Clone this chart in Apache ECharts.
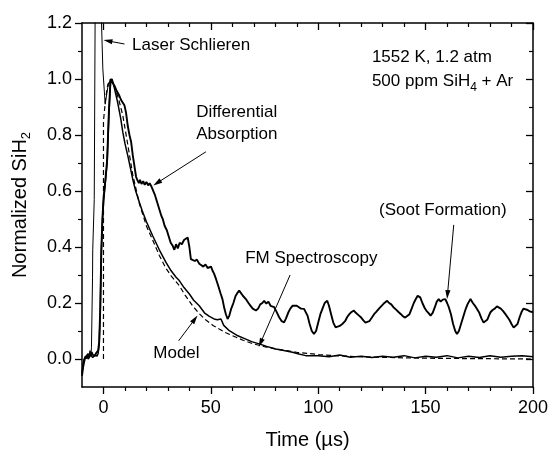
<!DOCTYPE html>
<html><head><meta charset="utf-8">
<script src="https://cdn.jsdelivr.net/npm/echarts@6/dist/echarts.min.js"></script>
<style>html,body{margin:0;padding:0;background:#fff}#c{width:551px;height:455px}</style>
</head><body><div id="c"></div>
<script>
// ---- data (time in µs, normalized SiH2) ----
const xTickRange = [-10, 200];
const yTickRange = [-0.1, 1.2];
const xTickValues = [0, 50, 100, 150, 200];
const yTickValues = [0, 0.2, 0.4, 0.6, 0.8, 1.0, 1.2];

const laserSchlieren = [[-10,-0.05],[-9.3,-0.01],[-8.5,0.01],[-8,0.0],[-7.3,0.02],[-6.8,0.01],[-6.3,0.03],[-5.8,0.02],[-5.6,0.04],[-5.1,0.29],[-5.0,0.39],[-4.3,0.57],[-3.9,1.2],[-3.7,1.4],[-1.3,1.4],[-1.1,1.25],[-0.3,1.036],[0.8,0.91],[2,0.97],[3.3,1.0]];

const diffAbsorption = [[-10,-0.06],[-9.5,-0.03],[-9,-0.01],[-8.5,0.005],[-8,0.0],[-7.5,0.015],[-7,0.005],[-6.5,0.02],[-6,0.01],[-5.5,0.025],[-5,0.015],[-4.5,0.02],[-4,0.01],[-3.5,0.02],[-3,0.015],[-2.5,0.03],[-2,0.06],[-1.5,0.18],[-1,0.39],[-0.5,0.5],[0,0.57],[1,0.65],[1.7,0.71],[2.5,0.88],[3.3,1.0],[4,1.0],[5.1,0.976],[6,0.96],[7.4,0.94],[8.2,0.925],[9,0.92],[9.8,0.905],[10.5,0.88],[11.3,0.833],[12.1,0.8],[12.9,0.774],[13.6,0.73],[14.4,0.69],[15.2,0.65],[15.9,0.637],[16.5,0.628],[17,0.64],[17.7,0.625],[18.5,0.635],[19.2,0.622],[20,0.632],[20.8,0.62],[21.5,0.628],[22.2,0.618],[22.9,0.613],[24,0.585],[25,0.56],[26,0.535],[27,0.51],[27.6,0.5],[28.5,0.475],[29.5,0.46],[30.5,0.435],[31.3,0.415],[32.2,0.405],[33,0.39],[33.8,0.41],[34.6,0.395],[35.5,0.415],[36.5,0.41],[37.5,0.425],[38.4,0.43],[39.2,0.434],[40,0.4],[40.7,0.357],[41.5,0.363],[42.5,0.35],[43.5,0.355],[44.6,0.34],[45.5,0.345],[46.5,0.33],[47.5,0.338],[48.5,0.325],[49.3,0.327],[50.1,0.33],[50.8,0.315],[51.5,0.305],[52.4,0.286],[53.5,0.26],[54.5,0.235],[55.4,0.214],[56.3,0.18],[57,0.16],[57.8,0.143],[58.6,0.155],[59.5,0.18],[60.5,0.2],[61.5,0.225],[62.3,0.235],[63.2,0.244],[64,0.238],[65,0.225],[66.3,0.214],[67.5,0.2],[68.5,0.19],[69.5,0.18],[71,0.173],[72,0.18],[73,0.195],[74,0.2],[74.8,0.208],[75.8,0.198],[76.8,0.205],[77.8,0.19],[78.7,0.196],[79.5,0.185],[80.5,0.17],[81.8,0.149],[83,0.135],[84.1,0.131],[85,0.145],[86,0.165],[87,0.18],[88,0.19],[88.8,0.196],[90,0.19],[91,0.185],[92,0.18],[93.4,0.179],[94.2,0.173],[95,0.155],[96,0.125],[97,0.1],[98,0.089],[99,0.1],[100,0.13],[101,0.16],[102,0.18],[103,0.2],[104.2,0.208],[105,0.19],[106,0.16],[107,0.13],[108.1,0.113],[109,0.12],[110,0.118],[111.2,0.125],[112.5,0.135],[113.5,0.15],[114.5,0.16],[115.5,0.168],[116.6,0.173],[117.5,0.165],[118.3,0.16],[119,0.155],[120,0.148],[121,0.138],[122,0.13],[122.8,0.125],[123.8,0.135],[125,0.148],[126,0.16],[127,0.168],[127.5,0.173],[128.5,0.182],[129.5,0.19],[130.5,0.198],[131.3,0.205],[132.1,0.208],[133,0.2],[134,0.195],[135,0.185],[136,0.178],[137.5,0.167],[138.5,0.16],[139.5,0.152],[140.5,0.148],[141.4,0.143],[142.5,0.16],[143.5,0.18],[144.5,0.2],[145.5,0.215],[146.3,0.226],[146.8,0.232],[147.5,0.22],[148.5,0.2],[149.5,0.183],[150.3,0.173],[151.3,0.165],[152.3,0.155],[153.3,0.165],[154.3,0.185],[155.2,0.205],[156.1,0.214],[157,0.205],[158,0.212],[159.2,0.214],[160,0.2],[160.8,0.185],[161.8,0.16],[162.8,0.125],[163.8,0.1],[164.6,0.089],[165.5,0.1],[166.5,0.125],[167.5,0.15],[168.5,0.175],[169.5,0.195],[170.9,0.214],[172,0.2],[173,0.19],[173.9,0.185],[175,0.165],[176,0.145],[177,0.13],[177.8,0.125],[178.7,0.14],[179.5,0.155],[180.2,0.167],[181.2,0.175],[182.2,0.18],[183.2,0.188],[184,0.19],[185,0.18],[186,0.172],[187,0.162],[187.9,0.155],[189,0.14],[190,0.125],[191,0.112],[191.8,0.107],[192.8,0.125],[193.8,0.15],[194.8,0.17],[195.6,0.18],[196.4,0.185],[197.5,0.175],[198.5,0.17],[200,0.167]];

const fmSpectroscopy = [[-10,-0.05],[-9.5,-0.02],[-9,0.0],[-8,0.01],[-7,0.0],[-6,0.015],[-5,0.005],[-4,0.015],[-3,0.01],[-2.5,0.02],[-2,0.05],[-1.5,0.17],[-1,0.38],[-0.5,0.49],[0,0.56],[1,0.64],[1.7,0.7],[2.5,0.87],[3.3,0.99],[4,1.0],[5,0.97],[6.5,0.92],[8,0.86],[9,0.81],[10,0.77],[11.5,0.72],[13.6,0.643],[15,0.6],[16.7,0.56],[18,0.53],[20,0.49],[22.9,0.44],[26,0.39],[29.1,0.345],[31.5,0.315],[33.8,0.292],[35.3,0.28],[37.5,0.255],[40,0.232],[42,0.21],[44.6,0.19],[47,0.165],[49.3,0.152],[51.5,0.143],[53,0.14],[54.7,0.143],[56,0.12],[58.6,0.101],[62,0.085],[66.3,0.071],[69,0.062],[72.5,0.054],[76,0.045],[80.2,0.036],[84,0.03],[88,0.024],[91,0.018],[94.2,0.012],[100,0.012],[105,0.008],[110,0.014],[115,0.006],[120,0.01],[125,0.005],[130,0.01],[135,0.006],[140,0.012],[145,0.004],[150,0.01],[155,0.006],[160,0.012],[165,0.004],[170,0.01],[175,0.005],[180,0.012],[185,0.006],[190,0.01],[195,0.012],[200,0.008]];

const model = [[0,0],[0,0.85],[1,0.93],[2,0.98],[3.5,1.0],[5,0.975],[7,0.93],[9,0.87],[11,0.78],[13.6,0.66],[16.7,0.555],[20,0.475],[22.9,0.425],[26,0.37],[29,0.325],[31.4,0.298],[35.3,0.262],[38,0.228],[41.5,0.19],[44.6,0.162],[47.7,0.139],[51,0.12],[53.9,0.107],[57,0.094],[60.1,0.083],[65,0.067],[69.4,0.055],[75,0.044],[80,0.036],[90,0.024],[100,0.016],[110,0.011],[120,0.008],[140,0.004],[160,0.002],[180,0.001],[200,0.0]];

const labelTexts = ['Laser Schlieren','1552 K, 1.2 atm','500 ppm SiH{s|4} + Ar','Differential','Absorption','FM Spectroscopy','Model','(Soot Formation)'];
const xTitle = 'Time (µs)';
const yTitle = 'Normalized SiH{s|2}';

// ---- layout (positions in data coordinates) ----
const labelAt = [[13.3,1.121],[125,1.079],[125,0.993],[43.2,0.882],[43.2,0.804],[66,0.36],[23.2,0.021],[128.3,0.532]];
const arrowAt = [
  [[9.8,1.125],[0.0,1.139]],
  [[47.7,0.74],[23.2,0.62]],
  [[86.9,0.3],[72.3,0.043]],
  [[35,0.065],[43.8,0.155]],
  [[163.1,0.479],[160,0.214]]
];

const FONT = 'Liberation Sans, Arial, sans-serif';
const richSub = {s:{fontSize:12, fontFamily:FONT, padding:[9,0,0,0], verticalAlign:'top', lineHeight:12}};

const chart = echarts.init(document.getElementById('c'), null, {renderer:'canvas'});

function axisX(pos, showLabel) {
  return {
    type:'value', position:pos, min:xTickRange[0], max:xTickRange[1], splitNumber:5,
    axisLine:{show:true, onZero:false, lineStyle:{color:'#000', width:1.5}},
    axisTick:{show:true, inside:!showLabel, length:7, customValues:xTickValues, lineStyle:{color:'#000', width:1.3}},
    minorTick:{show:true, splitNumber:5, length:4, lineStyle:{color:'#000', width:1.2}},
    axisLabel:{show:showLabel, color:'#000', fontSize:18, fontFamily:FONT, margin:12, customValues:xTickValues},
    splitLine:{show:false}, minorSplitLine:{show:false},
    name: showLabel ? xTitle : '', nameLocation:'middle', nameGap:43,
    nameTextStyle:{color:'#000', fontSize:20, fontFamily:FONT}
  };
}
function axisY(pos, showLabel) {
  return {
    type:'value', position:pos, min:yTickRange[0], max:yTickRange[1], splitNumber:6,
    axisLine:{show:true, onZero:false, lineStyle:{color:'#000', width:1.5}},
    axisTick:{show:true, inside:!showLabel, length:7, customValues:yTickValues, lineStyle:{color:'#000', width:1.3}},
    minorTick:{show:true, splitNumber:2, length:4, lineStyle:{color:'#000', width:1.2}},
    axisLabel:{show:showLabel, color:'#000', fontSize:18, fontFamily:FONT, margin:10, customValues:yTickValues,
      formatter:v=>v.toFixed(1)},
    splitLine:{show:false}, minorSplitLine:{show:false},
    name: showLabel ? yTitle : '', nameLocation:'middle', nameGap:52,
    nameTextStyle:{color:'#000', fontSize:20, fontFamily:FONT, verticalAlign:'bottom',
      rich:{s:{fontSize:13, fontFamily:FONT, padding:[10,0,0,0], verticalAlign:'top', lineHeight:13}}}
  };
}

const option = {
  animation:false,
  backgroundColor:'#fff',
  grid:{left:82, right:17, top:23, bottom:67, containLabel:false},
  xAxis:[axisX('bottom', true), axisX('top', false)],
  yAxis:[axisY('left', true), axisY('right', false)],
  series:[
    {type:'line', name:'Laser Schlieren', data:laserSchlieren, showSymbol:false, symbol:'none', clip:true,
      lineStyle:{color:'#000', width:1}},
    {type:'line', name:'Differential Absorption', data:diffAbsorption, showSymbol:false, symbol:'none', clip:true,
      lineStyle:{color:'#000', width:1.9}},
    {type:'line', name:'FM Spectroscopy', data:fmSpectroscopy, showSymbol:false, symbol:'none', clip:true,
      lineStyle:{color:'#000', width:1.5}},
    {type:'line', name:'Model', data:model, showSymbol:false, symbol:'none', clip:true,
      lineStyle:{color:'#000', width:1.2, type:[5,3]}}
  ]
};
chart.setOption(option);

function px(p){ return chart.convertToPixel({xAxisIndex:0, yAxisIndex:0}, p); }
const graphics = [];
labelTexts.forEach((t,i)=>{
  const p = px(labelAt[i]);
  graphics.push({type:'text', x:p[0], y:p[1], silent:true,
    style:{text:t, fill:'#000', fontSize:17, fontFamily:FONT, align:'left', verticalAlign:'middle', rich:richSub}});
});
arrowAt.forEach(a=>{
  const p1 = px(a[0]), p2 = px(a[1]);
  const dx = p2[0]-p1[0], dy = p2[1]-p1[1], L = Math.hypot(dx,dy);
  const ux = dx/L, uy = dy/L, nx = -uy, ny = ux, hl = 9, hw = 2.6;
  const bx = p2[0]-ux*hl, by = p2[1]-uy*hl;
  graphics.push({type:'line', silent:true, shape:{x1:p1[0], y1:p1[1], x2:bx+ux*2, y2:by+uy*2},
    style:{stroke:'#000', lineWidth:1}});
  graphics.push({type:'polygon', silent:true, shape:{points:[[p2[0],p2[1]],[bx+nx*hw,by+ny*hw],[bx-nx*hw,by-ny*hw]]},
    style:{fill:'#000'}});
});
chart.setOption({graphic:graphics});
</script></body></html>
